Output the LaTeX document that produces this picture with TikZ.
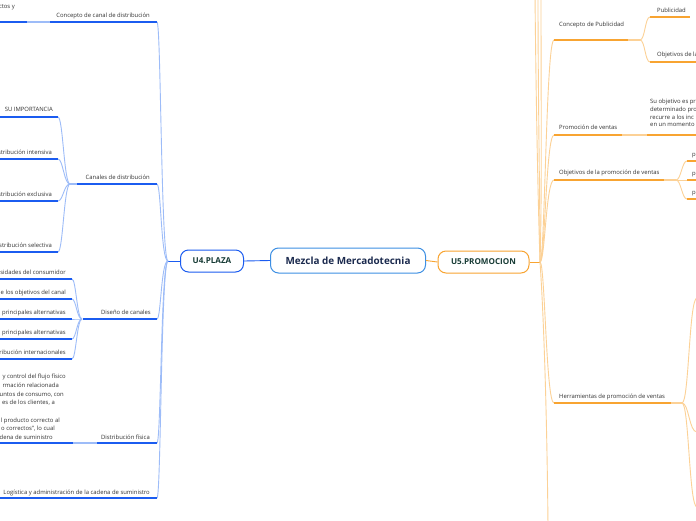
\documentclass[tikz,border=0pt]{standalone}
\usepackage{fontspec}
\setmainfont{Open Sans}
\definecolor{bd}{HTML}{1B5CF0}
\definecolor{bl}{HTML}{9DBCF8}
\definecolor{od}{HTML}{F8A431}
\definecolor{ol}{HTML}{FCD196}
\definecolor{cb}{HTML}{3D8FE3}
\definecolor{navy}{HTML}{1B2A4E}
\definecolor{dgreen}{HTML}{173B35}
\definecolor{tg}{HTML}{333333}
\begin{document}
\begin{tikzpicture}[x=1pt,y=-1pt,
  bul/.style={draw=bd, line width=1.3pt},
  bcon/.style={draw=bl, line width=0.9pt},
  oul/.style={draw=od, line width=1.3pt},
  ocon/.style={draw=ol, line width=0.9pt},
  lbl/.style={inner sep=0pt, text=tg, font=\fontsize{5.9}{7}\selectfont},
  rootbox/.style={draw=cb, line width=1pt, rounded corners=8pt, fill=white,
    minimum width=155pt, minimum height=25pt, text=navy,
    font=\bfseries\fontsize{9.9}{11}\selectfont},
  mainbox/.style={rounded corners=8pt, line width=1pt, fill=white,
    minimum height=22pt, text=dgreen, font=\bfseries\fontsize{8.1}{9}\selectfont}]
\useasboundingbox (0,0) rectangle (696,520);
\fill[white] (0,0) rectangle (696,520);
\clip (0,0) rectangle (696,520);

% ---------- central nodes ----------
\node[rootbox] (c) at (348,260.5) {Mezcla de Mercadotecnia};
\node[mainbox, draw=bd, minimum width=63pt] (u4) at (212,261) {U4.PLAZA};
\node[mainbox, draw=od, minimum width=91pt] (u5) at (483.5,262) {U5.PROMOCION};
\coordinate (LH) at (168,261);
\coordinate (RH) at (540,262);
\draw[draw=bd, line width=0.9pt] (c.west) -- (u4.east);
\draw[draw=bd, line width=0.9pt] (u4.west) -- (LH);
\draw[draw=od, line width=0.9pt] (c.east) -- (u5.west);
\draw[draw=od, line width=0.9pt] (u5.east) -- (RH);

% ---------- left side coordinates ----------
\coordinate (A1) at (157,22); \coordinate (A1a) at (50,22);
\coordinate (A1b) at (27,22); \coordinate (A1c) at (-2,22);
\coordinate (A2) at (157,184); \coordinate (A2a) at (77,184); \coordinate (B2) at (70,184);
\coordinate (B2a) at (58,117); \coordinate (B2b) at (58,159);
\coordinate (B2c) at (58,201); \coordinate (B2d) at (58,252);
\coordinate (A3) at (157,319); \coordinate (A3a) at (83,319); \coordinate (B3) at (82,319);
\coordinate (B3a) at (72,279); \coordinate (B3b) at (72,299); \coordinate (B3c) at (72,319);
\coordinate (B3d) at (72,339); \coordinate (B3e) at (72,359);
\coordinate (A4) at (157,443); \coordinate (A4a) at (97,443);
\coordinate (A4b) at (73,443); \coordinate (A4c) at (-2,443);
\coordinate (A5) at (157,498); \coordinate (A5a) at (-2,498);

\foreach \t in {A1,A2,A3,A4,A5}
  \draw[bcon] (LH) .. controls ([xshift=-7pt]LH) and ([xshift=4pt]\t) .. (\t);
\foreach \t in {B2a,B2b,B2c,B2d}
  \draw[bcon] (B2) .. controls ([xshift=-6pt]B2) and ([xshift=5pt]\t) .. (\t);
\foreach \t in {B3a,B3b,B3c,B3d,B3e}
  \draw[bcon] (B3) .. controls ([xshift=-5pt]B3) and ([xshift=4pt]\t) .. (\t);

\draw[bul] (A1) -- (A1a);
\draw[bcon, line width=1.3pt] (A1a) -- (A1b);
\draw[bul] (A1b) -- (A1c);
\draw[bul] (A2) -- (A2a);
\draw[bcon, line width=1.3pt] (A2a) -- (B2);
\foreach \t in {B2a,B2b,B2c,B2d} \draw[bul] (\t) -- ([xshift=-62pt]\t);
\draw[bul] (A3) -- (A3a);
\foreach \t in {B3a,B3b,B3c,B3d,B3e} \draw[bul] (\t) -- ([xshift=-76pt]\t);
\draw[bul] (A4) -- (A4a);
\draw[bcon, line width=1.3pt] (A4a) -- (A4b);
\draw[bul] (A4b) -- (A4c);
\draw[bul] (A5) -- (A5a);

% ---------- left labels ----------
\node[lbl, anchor=base east] (l1) at (150,17) {Concepto de canal de distribución};
\node[lbl, anchor=base east] (l1c) at (15,8) {ctos y};
\node[lbl, anchor=base east] (l2) at (150,179) {Canales de distribución};
\node[lbl, anchor=base east] (l2a) at (53,111) {SU IMPORTANCIA};
\node[lbl, anchor=base east] (l2b) at (52,154) {stribución intensiva};
\node[lbl, anchor=base east] (l2c) at (52,196) {stribución exclusiva};
\node[lbl, anchor=base east] (l2d) at (52,247) {stribución selectiva};
\node[lbl, anchor=base east] (l3) at (151,314) {Diseño de canales};
\node[lbl, anchor=base east] (l3a) at (66,274) {sidades del consumidor};
\node[lbl, anchor=base east] (l3b) at (66,294) {e los objetivos del canal};
\node[lbl, anchor=base east] (l3c) at (66,314) {principales alternativas};
\node[lbl, anchor=base east] (l3d) at (66,334) {principales alternativas};
\node[lbl, anchor=base east] (l3e) at (66,354) {ribución internacionales};
\node[lbl, anchor=north east, align=right, font=\fontsize{5.9}{8.7}\selectfont] (l4c) at (66,374)
  {y control del flujo físico\\
   rmación relacionada\kern7pt\\
   untos de consumo, con\kern2pt\\
   es de los clientes, a\kern11pt\\[8.7pt]
   l producto correcto al\kern6pt\\
   o correctos”, lo cual\kern11pt\\
   dena de suministro\kern13pt};
\node[lbl, anchor=base east] (l4) at (150,439) {Distribución física};
\node[lbl, anchor=base east] (l5) at (150,494) {Logística y administración de la cadena de suministro};

% ---------- right side coordinates ----------
\coordinate (R1) at (554,40); \coordinate (R1a) at (628,40); \coordinate (C1) at (640,40);
\coordinate (C1a) at (650,17); \coordinate (C1b) at (690,17);
\coordinate (C1c) at (650,62); \coordinate (C1d) at (698,62);
\coordinate (R2) at (554,135); \coordinate (R2a) at (622,135);
\coordinate (R2b) at (647,135); \coordinate (R2c) at (698,135);
\coordinate (R3) at (554,180); \coordinate (R3a) at (664,180); \coordinate (C3) at (676,180);
\coordinate (C3a) at (687,161); \coordinate (C3b) at (687,180); \coordinate (C3c) at (687,199);
\coordinate (R4) at (554,403); \coordinate (R4a) at (671,403); \coordinate (C4) at (682,403);
\coordinate (C4a) at (697,298); \coordinate (C4b) at (697,432); \coordinate (C4c) at (697,507);
\coordinate (T1) at (535,-6); \coordinate (T2) at (538,-6); \coordinate (T3) at (541,-6);
\coordinate (Bt) at (548,526);

\draw[ocon] (RH) .. controls (538,200) and (536,100) .. (T1);
\draw[ocon] (RH) .. controls (540,200) and (538,100) .. (T2);
\draw[ocon] (RH) .. controls (542,200) and (541,100) .. (T3);
\draw[ocon] (RH) .. controls (544,320) and (547,420) .. (Bt);
\foreach \t in {R1,R2,R3,R4}
  \draw[ocon] (RH) .. controls ([xshift=5pt]RH) and ([xshift=-8pt]\t) .. (\t);
\foreach \t in {C1a,C1c}
  \draw[ocon] (C1) .. controls ([xshift=5pt]C1) and ([xshift=-5pt]\t) .. (\t);
\foreach \t in {C3a,C3b,C3c}
  \draw[ocon] (C3) .. controls ([xshift=5pt]C3) and ([xshift=-5pt]\t) .. (\t);
\foreach \t in {C4a,C4b,C4c}
  \draw[ocon] (C4) .. controls ([xshift=7pt]C4) and ([xshift=-8pt]\t) .. (\t);

\draw[oul] (R1) -- (R1a);
\draw[ocon, line width=1.3pt] (R1a) -- (C1);
\draw[oul] (C1a) -- (C1b);
\draw[oul] (C1c) -- (C1d);
\draw[oul] (R2) -- (R2a);
\draw[ocon, line width=1.3pt] (R2a) -- (R2b);
\draw[oul] (R2b) -- (R2c);
\draw[oul] (R3) -- (R3a);
\draw[ocon, line width=1.3pt] (R3a) -- (C3);
\foreach \t in {C3a,C3b,C3c} \draw[oul] (\t) -- ([xshift=12pt]\t);
\draw[oul] (R4) -- (R4a);
\draw[ocon, line width=1.3pt] (R4a) -- (C4);

% ---------- right labels ----------
\node[lbl, anchor=base west] (r1) at (559,26) {Concepto de Publicidad};
\node[lbl, anchor=base west] (r1a) at (657,12) {Publicidad};
\node[lbl, anchor=base west] (r1b) at (657,56) {Objetivos de la};
\node[lbl, anchor=base west] (r2) at (559,129) {Promoción de ventas};
\node[lbl, anchor=north west, align=left, font=\fontsize{5.9}{7.7}\selectfont] (r2a) at (650,99)
  {Su objetivo es pr\\determinado pro\\recurre a los inc\\en un momento};
\node[lbl, anchor=base west] (r3) at (559,174) {Objetivos de la promoción de ventas};
\node[lbl, anchor=base west] (r3a) at (692,156) {p};
\node[lbl, anchor=base west] (r3b) at (692,175) {p};
\node[lbl, anchor=base west] (r3c) at (692,194) {p};
\node[lbl, anchor=base west] (r4) at (559,398) {Herramientas de promoción de ventas};
\end{tikzpicture}
\end{document}
